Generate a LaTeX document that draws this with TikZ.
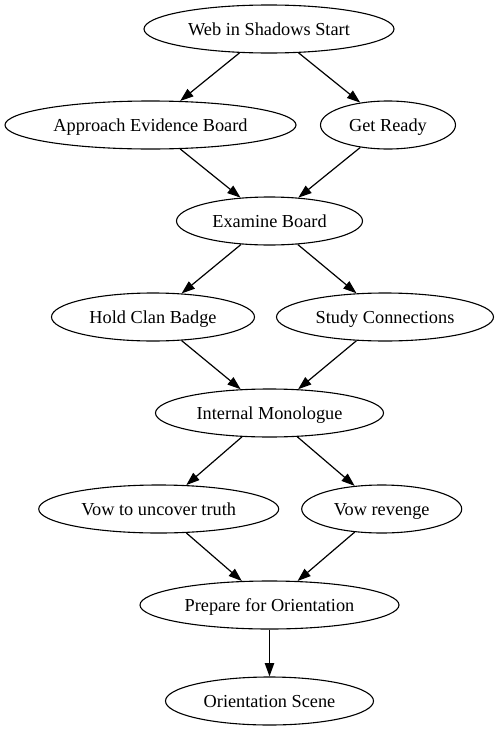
\documentclass[tikz,border=0pt]{standalone}
\usepackage{fontspec}
\setmainfont{Liberation Serif}
\usetikzlibrary{shapes.geometric,arrows.meta}
\begin{document}
\begin{tikzpicture}[x=1pt,y=-1pt,
  st/.style={draw,ellipse,inner sep=0pt,minimum height=48pt,line width=1.1pt,
    text height=15pt,text depth=2pt,
    font=\fontsize{18.3}{22}\selectfont},
  ed/.style={line width=1.2pt,-{Triangle[length=13.3pt,width=9.3pt]}}]
\useasboundingbox (0,0) rectangle (499,731);
\node[st,minimum width=250pt] (web) at (269,29) {Web in Shadows Start};
\node[st,minimum width=291pt] (app) at (150.5,125) {Approach Evidence Board};
\node[st,minimum width=135pt] (ready) at (388,125) {Get Ready};
\node[st,minimum width=186pt] (exam) at (269.5,221) {Examine Board};
\node[st,minimum width=203pt] (hold) at (153,317) {Hold Clan Badge};
\node[st,minimum width=217pt] (study) at (385,317) {Study Connections};
\node[st,minimum width=228pt] (mono) at (269.5,413) {Internal Monologue};
\node[st,minimum width=240pt] (truth) at (158.7,509) {Vow to uncover truth};
\node[st,minimum width=160pt] (rev) at (381.7,509) {Vow revenge};
\node[st,minimum width=259pt] (prep) at (269.5,605) {Prepare for Orientation};
\node[st,minimum width=208pt] (ori) at (269.5,701) {Orientation Scene};
\draw[ed] (web) -- (app);
\draw[ed] (web) -- (ready);
\draw[ed] (app) -- (exam);
\draw[ed] (ready) -- (exam);
\draw[ed] (exam) -- (hold);
\draw[ed] (exam) -- (study);
\draw[ed] (hold) -- (mono);
\draw[ed] (study) -- (mono);
\draw[ed] (mono) -- (truth);
\draw[ed] (mono) -- (rev);
\draw[ed] (truth) -- (prep);
\draw[ed] (rev) -- (prep);
\draw[ed] (prep) -- (ori);
\end{tikzpicture}
\end{document}
